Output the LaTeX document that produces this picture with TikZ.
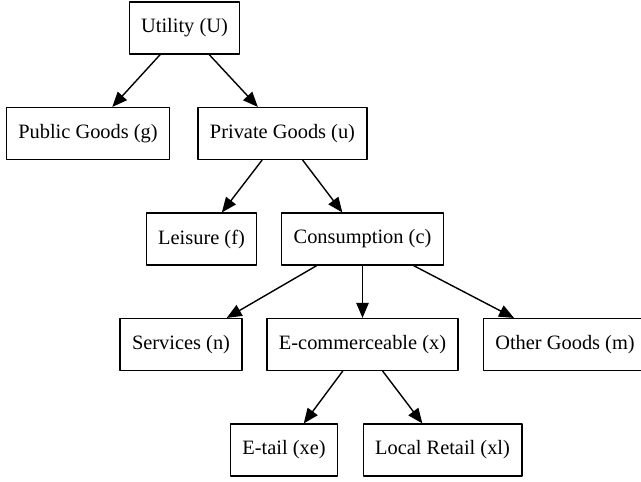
\documentclass[tikz,border=0pt]{standalone}
\usepackage{fontspec}
\setmainfont{Liberation Serif}
\usetikzlibrary{arrows}

\begin{document}
\begin{tikzpicture}[line cap=round,line join=round,>=triangle 45,x=0.5pt,y=-0.5pt,
    box/.style={draw,line width=0.6pt,minimum height=26pt,inner xsep=6pt,
      font=\fontsize{10.2}{12}\selectfont}]
    \useasboundingbox (0,0) rectangle (641,481);
    \node [box] (util) at (184.5,28) {Utility (U)};
    \node [box] (pub) at (88,133.5) {Public Goods (g)};
    \node [box] (priv) at (282.5,133.5) {Private Goods (u)};
    \node [box] (leis) at (201.5,239) {Leisure (f)};
    \node [box] (cons) at (362.5,239) {Consumption (c)};
    \node [box] (serv) at (181,344.5) {Services (n)};
    \node [box] (ecom) at (362.5,344.5) {E-commerceable (x)};
    \node [box] (other) at (565,344.5) {Other Goods (m)};
    \node [box] (etail) at (284,450) {E-tail (xe)};
    \node [box] (local) at (442.5,450) {Local Retail (xl)};
    \foreach \a/\b in {util/pub,util/priv,priv/leis,priv/cons,cons/serv,cons/ecom,cons/other,ecom/etail,ecom/local}
    \draw[->,line width=0.7pt] (\a) -- (\b);
\end{tikzpicture}
\end{document}
